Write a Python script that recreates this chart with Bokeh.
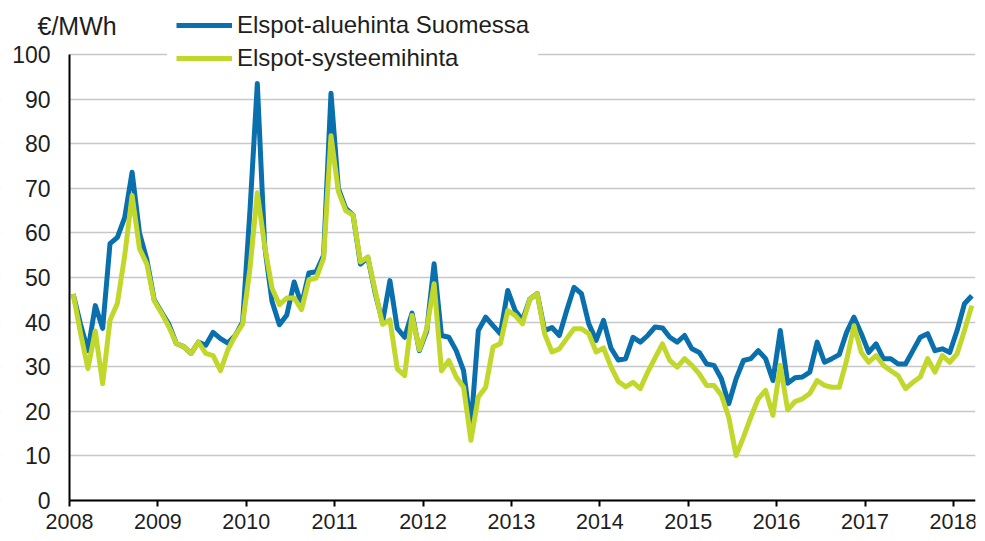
from bokeh.plotting import figure
from bokeh.models import Range1d, FixedTicker, Legend, LegendItem, Label, BoxAnnotation
from bokeh.embed import file_html
from bokeh.resources import INLINE

# ---- data (monthly averages, €/MWh), Jan 2008 .. Mar 2018 ----
start_year = 2008
end_x = 2018.25
year_ticks = list(range(2008, 2019))
y_ticks = [0, 10, 20, 30, 40, 50, 60, 70, 80, 90, 100]

series_fi_name = "Elspot-aluehinta Suomessa"
series_sys_name = "Elspot-systeemihinta"
unit_label = "€/MWh"

aluehinta = [
    46.3, 39.5, 33.6, 43.7, 38.6, 57.6, 59.0, 63.5, 73.6, 60.0, 54.0, 45.0,   # 2008
    42.2, 39.5, 35.2, 34.5, 33.0, 35.5, 34.8, 37.7, 36.3, 35.3, 37.0, 40.0,   # 2009
    65.0, 93.5, 57.0, 44.6, 39.4, 41.6, 49.0, 43.9, 51.0, 51.3, 55.0, 91.3,   # 2010
    70.0, 65.5, 64.0, 53.0, 54.5, 46.5, 40.0, 49.3, 38.6, 36.6, 42.0, 33.6,   # 2011
    38.0, 53.1, 37.0, 36.6, 33.6, 29.1, 16.5, 38.1, 41.1, 39.2, 37.4, 47.1,   # 2012
    42.6, 40.4, 45.2, 46.4, 38.1, 38.8, 37.0, 42.6, 47.8, 46.4, 39.6, 35.9,   # 2013
    40.4, 34.2, 31.5, 31.8, 36.6, 35.5, 37.0, 38.9, 38.7, 36.6, 35.5, 37.0,   # 2014
    34.0, 33.2, 30.6, 30.3, 27.3, 21.7, 27.3, 31.4, 31.8, 33.6, 31.8, 26.9,   # 2015
    38.1, 26.3, 27.5, 27.7, 28.8, 35.5, 31.0, 31.8, 32.7, 37.7, 41.1, 37.4,   # 2016
    33.2, 35.1, 31.8, 31.8, 30.6, 30.6, 33.6, 36.6, 37.4, 33.6, 34.0, 33.2,   # 2017
    38.1, 44.1, 45.9,                                                       # 2018
]

systeemihinta = [
    46.3, 37.5, 29.6, 38.0, 26.2, 40.4, 44.2, 55.0, 68.4, 56.5, 53.0, 44.8,   # 2008
    42.0, 38.9, 35.2, 34.5, 33.0, 35.5, 33.0, 32.5, 29.1, 33.8, 37.0, 39.5,   # 2009
    52.0, 69.0, 57.0, 47.6, 43.9, 45.4, 45.4, 42.8, 49.5, 49.9, 54.3, 81.8,   # 2010
    69.3, 65.0, 64.0, 53.5, 54.6, 47.0, 39.5, 40.5, 29.5, 28.0, 41.5, 33.8,   # 2011
    38.5, 48.6, 29.1, 31.4, 27.7, 25.4, 13.5, 23.2, 25.4, 34.4, 35.2, 42.6,   # 2012
    41.5, 39.6, 45.2, 46.4, 37.4, 33.3, 34.0, 36.3, 38.5, 38.5, 37.4, 33.3,   # 2013
    34.2, 30.0, 26.7, 25.5, 26.5, 25.1, 28.8, 32.0, 35.1, 31.4, 29.9, 31.8,   # 2014
    30.3, 28.4, 25.8, 25.8, 23.6, 18.7, 10.1, 14.2, 18.7, 22.8, 24.7, 19.1,   # 2015
    30.3, 20.3, 22.2, 22.8, 24.0, 26.9, 25.8, 25.4, 25.4, 31.4, 39.2, 33.2,   # 2016
    31.0, 32.5, 30.3, 29.1, 28.0, 25.1, 26.5, 27.7, 31.8, 28.8, 32.5, 31.0,   # 2017
    32.9, 38.1, 43.7,                                                       # 2018
]

# month mid-points as fractional years
x_vals = [start_year + (i + 0.5) / 12.0 for i in range(len(aluehinta))]

FONT = "Liberation Sans"
BLUE = "#0a6fad"
GREEN = "#c2d72c"
TEXT = "#1e1e1e"

# the frame covers the whole canvas; both axes are drawn at fixed data locations
CANVAS_W, CANVAS_H = 980, 538
FRAME_W = 975
AXIS_X_PX, AXIS_Y_PX, TOP100_PX = 69, 500, 54
px_per_year = (FRAME_W - AXIS_X_PX) / (end_x - start_year)
x_start = start_year - AXIS_X_PX / px_per_year
px_per_unit = (AXIS_Y_PX - TOP100_PX) / 100.0
y_start = -(CANVAS_H - AXIS_Y_PX) / px_per_unit
y_end = 100 + TOP100_PX / px_per_unit

p = figure(
    width=CANVAS_W, height=CANVAS_H,
    x_range=Range1d(x_start, end_x), y_range=Range1d(y_start, y_end),
    output_backend="svg", toolbar_location=None,
    min_border_left=0, min_border_right=CANVAS_W - FRAME_W, min_border_top=0, min_border_bottom=0,
)
p.outline_line_color = None
p.background_fill_color = "white"
p.border_fill_color = "white"

p.ygrid.grid_line_color = "#c8c8c8"
p.ygrid.grid_line_width = 1.5
p.xgrid.grid_line_color = None
# keep the grid to the right of the value axis
p.add_layout(BoxAnnotation(right=start_year, fill_color="white", fill_alpha=1.0,
                           line_color=None, level="underlay"))

r_fi = p.line(x_vals, aluehinta, line_color=BLUE, line_width=5, line_join="round")
r_sys = p.line(x_vals, systeemihinta, line_color=GREEN, line_width=5, line_join="round")

# axes
p.xaxis.ticker = FixedTicker(ticks=year_ticks)
p.xaxis.major_label_overrides = {y: str(y) for y in year_ticks}
p.xaxis.bounds = (start_year, end_x)
p.xaxis.fixed_location = 0
p.yaxis.ticker = FixedTicker(ticks=y_ticks)
p.yaxis.bounds = (0, 100)
p.yaxis.fixed_location = start_year
for ax in (p.xaxis[0], p.yaxis[0]):
    ax.axis_line_color = "black"
    ax.axis_line_width = 2
    ax.minor_tick_line_color = None
    ax.major_label_text_font = FONT
    ax.major_label_text_color = TEXT
p.xaxis.major_label_text_font_size = "21.5px"
p.yaxis.major_label_text_font_size = "23px"

p.xaxis.major_tick_line_color = "black"
p.xaxis.major_tick_line_width = 2
p.xaxis.major_tick_out = 6
p.xaxis.major_tick_in = 0
p.xaxis.major_label_standoff = 7

p.yaxis.major_tick_line_color = None
p.yaxis.major_tick_out = 0
p.yaxis.major_tick_in = 0
p.yaxis.major_label_standoff = 19

legend = Legend(
    items=[LegendItem(label=series_fi_name, renderers=[r_fi]),
           LegendItem(label=series_sys_name, renderers=[r_sys])],
    location=(167, 457),
    label_text_font=FONT, label_text_font_size="24px", label_text_color=TEXT,
    glyph_width=56, glyph_height=20, label_height=20, spacing=5, padding=8,
    label_standoff=5, margin=0,
    border_line_color="white", border_line_width=1,
    background_fill_color="white", background_fill_alpha=1.0,
)
p.add_layout(legend, "center")

p.add_layout(Label(x=start_year - 32.0 / px_per_year, y=106.3, x_units="data", y_units="data",
                   text=unit_label, text_font=FONT, text_font_size="25px", text_color=TEXT,
                   text_baseline="middle", text_align="left"))

open("out.html", "w").write(file_html(p, INLINE))
